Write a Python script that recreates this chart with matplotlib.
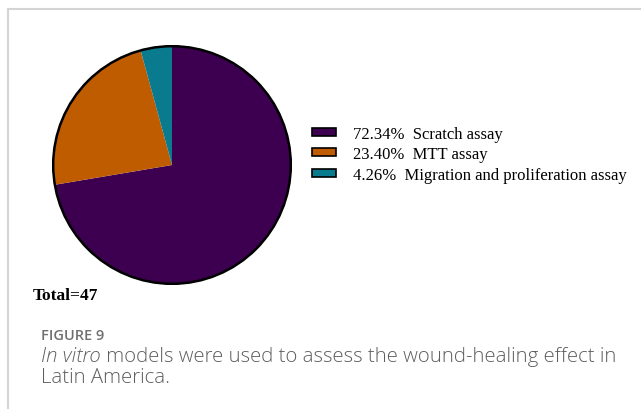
import matplotlib
matplotlib.use('Agg')
import matplotlib.pyplot as plt
from matplotlib.lines import Line2D
from matplotlib.patches import Circle

# data
labels = ['Scratch assay', 'MTT assay', 'Migration and proliferation assay']
counts = [34, 11, 2]
colors = ['#3d0050', '#c05c00', '#0a7a8e']
total = sum(counts)
pcts = [100.0 * c / total for c in counts]

W, H = 641, 410
fig = plt.figure(figsize=(W / 100, H / 100), dpi=100)
fig.patch.set_facecolor('white')

# card frame
fig.add_artist(Line2D([8 / W, 1], [1 - 10 / H, 1 - 10 / H], color='#d4d4d4', lw=1.5))
fig.add_artist(Line2D([8 / W, 8 / W], [0, 1 - 10 / H], color='#d4d4d4', lw=1.5))

# pie
cx, cy, r = 172, 166, 120
ax = fig.add_axes([(cx - r) / W, 1 - (cy + r) / H, 2 * r / W, 2 * r / H])
wedges, _ = ax.pie(counts, colors=colors, startangle=90, counterclock=False,
                   wedgeprops=dict(linewidth=0))
ax.add_patch(Circle((0, 0), 1, fill=False, edgecolor='black', lw=1.8))
ax.set_xlim(-1.01, 1.01)
ax.set_ylim(-1.01, 1.01)
ax.set_aspect('equal')
ax.axis('off')

leg_labels = ['%.2f%%  %s' % (p, l) for p, l in zip(pcts, labels)]
leg = fig.legend(wedges, leg_labels, loc='upper left',
                 bbox_to_anchor=(312 / W, 1 - 127 / H), frameon=False,
                 prop={'family': 'Liberation Serif', 'size': 12},
                 handlelength=1.44, handleheight=0.36, handletextpad=1.0,
                 labelspacing=0.26, borderpad=0, borderaxespad=0)
for h in leg.legend_handles:
    h.set_edgecolor('black')
    h.set_linewidth(1.2)

fig.text(33 / W, 1 - 296 / H, 'Total=%d' % total, family='Liberation Serif',
         weight='bold', size=12.5, va='center', ha='left')

# caption
fig.text(41 / W, 1 - 336 / H, 'FIGURE 9', family='Open Sans', size=10.5,
         weight='semibold', color='#707070', va='center', ha='left')
t1 = fig.text(41 / W, 1 - 357 / H, 'In vitro', family='Open Sans', style='italic',
              weight='light', size=14.7, color='#5e5e5e', va='center', ha='left')
fig.canvas.draw()
bb = t1.get_window_extent()
fig.text(bb.x1 / W, 1 - 357 / H,
         ' models were used to assess the wound-healing effect in',
         family='Open Sans', weight='light', size=14.7, color='#5e5e5e',
         va='center', ha='left')
fig.text(41 / W, 1 - 378 / H, 'Latin America.', family='Open Sans',
         weight='light', size=14.7, color='#5e5e5e', va='center', ha='left')

fig.savefig('out.png', dpi=100)
